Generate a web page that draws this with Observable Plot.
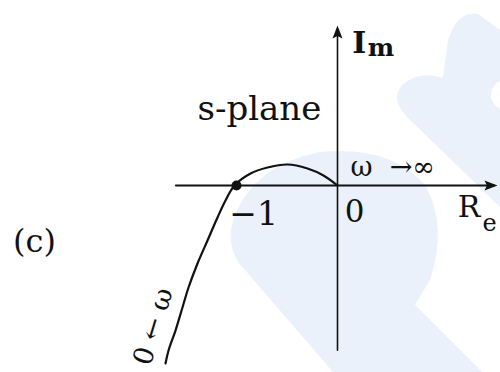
<!DOCTYPE html>
<html>
<head>
<meta charset="utf-8">
<script src="https://cdn.jsdelivr.net/npm/d3@7"></script>
<script src="https://cdn.jsdelivr.net/npm/@observablehq/plot@0.6"></script>
<style>
  html, body { margin: 0; padding: 0; background: #fff; }
  #wrap { position: relative; width: 500px; height: 372px; }
  #wrap svg { position: absolute; left: 0; top: 0; }
</style>
</head>
<body>
<div id="wrap">
  <svg width="500" height="372" viewBox="0 0 500 372">
    <path fill="#eaf1fb" d="M 333 372 L 238 262 Q 225 240 235 215 Q 255 165 320 152 Q 390 145 425 185 Q 448 225 430 280 L 415 305 L 482 372 Z"/>
    <path fill="#eaf1fb" d="M 500 207 L 408 118 Q 390 100 402 85 Q 420 70 443 78 L 448 40 Q 458 10 478 14 L 500 30 Z"/>
    <circle cx="506" cy="95" r="15" fill="#fff"/>
  </svg>
</div>
<script>
// Nyquist locus G(jω) in the s-plane: starts far out in the third quadrant as ω → 0,
// crosses the real axis at −1 and ends at the origin as ω → ∞.
const curveRe = [-1.703, -1.673, -1.604, -1.535, -1.475, -1.386, -1.287, -1.188, -1.109, -1.02, -0.861, -0.693, -0.495, -0.297, -0.139, 0];
const curveIm = [-1.762, -1.634, -1.436, -1.208, -1.01, -0.772, -0.545, -0.317, -0.149, 0, 0.119, 0.178, 0.208, 0.168, 0.099, 0];

// Axis extents (real and imaginary)
const reAxis = [-1.6, 1.55];
const imAxis = [-1.63, 1.55];
const arrowTip = 1.584;

// Marked crossing point and tick labels
const crossing = [-1];
const tickLabels = ["−1", "0"];

const curve = curveRe.map((re, i) => ({re, im: curveIm[i]}));

// Solid arrowhead pointing up, tip at the anchor point
const arrowHead = {
  draw(ctx) {
    ctx.moveTo(0, 0);
    ctx.lineTo(-5, 13);
    ctx.lineTo(0, 10.5);
    ctx.lineTo(5, 13);
    ctx.closePath();
  }
};

const serif = "DejaVu Serif";
const ink = "#111";

const chart = Plot.plot({
  width: 500,
  height: 372,
  margin: 0,
  style: {background: "transparent"},
  x: {domain: [-337 / 101, 163 / 101], axis: null},
  y: {domain: [-187 / 101, 185 / 101], axis: null},
  marks: [
    // axes
    Plot.line(reAxis.map(x => ({x, y: 0})), {x: "x", y: "y", stroke: ink, strokeWidth: 2}),
    Plot.line(imAxis.map(y => ({x: 0, y})), {x: "x", y: "y", stroke: ink, strokeWidth: 1.6}),
    Plot.dot([{x: 0, y: arrowTip}], {x: "x", y: "y", symbol: arrowHead, fill: ink, stroke: "none"}),
    Plot.dot([{x: arrowTip, y: 0}], {x: "x", y: "y", symbol: arrowHead, rotate: 90, fill: ink, stroke: "none"}),
    // locus
    Plot.line(curve, {x: "re", y: "im", curve: "catmull-rom", stroke: ink, strokeWidth: 2.2}),
    Plot.dot(crossing, {x: d => d, y: () => 0, r: 5, fill: ink, stroke: "none"}),
    // tick labels
    Plot.text([tickLabels[0]], {x: -0.83, y: -0.39, text: d => d, fontFamily: serif, fontSize: 33, lineAnchor: "bottom", fill: ink}),
    Plot.text([tickLabels[1]], {x: 0.17, y: -0.366, text: d => d, fontFamily: serif, fontSize: 31, lineAnchor: "bottom", fill: ink}),
    // axis titles
    Plot.text(["I"], {x: 0.147, y: 1.31, text: d => d, fontFamily: serif, fontSize: 30, fontWeight: "bold", textAnchor: "start", lineAnchor: "bottom", fill: ink}),
    Plot.text(["m"], {x: 0.3, y: 1.28, text: d => d, fontFamily: serif, fontSize: 25, fontWeight: "bold", textAnchor: "start", lineAnchor: "bottom", fill: ink}),
    Plot.text(["R"], {x: 1.19, y: -0.307, text: d => d, fontFamily: serif, fontSize: 30, textAnchor: "start", lineAnchor: "bottom", fill: ink}),
    Plot.text(["e"], {x: 1.435, y: -0.446, text: d => d, fontFamily: serif, fontSize: 24, textAnchor: "start", lineAnchor: "bottom", fill: ink}),
    // annotations
    Plot.text(["s-plane"], {x: -1.386, y: 0.644, text: d => d, fontFamily: serif, fontSize: 34, textAnchor: "start", lineAnchor: "bottom", fill: ink}),
    Plot.text(["ω  →∞"], {x: 0.129, y: 0.099, text: d => d, fontFamily: serif, fontSize: 27, textAnchor: "start", lineAnchor: "bottom", fill: ink}),
    Plot.text(["0 ← ω"], {x: -1.822, y: -1.396, text: d => d, fontFamily: serif, fontSize: 27, rotate: -73, fill: ink}),
    Plot.text(["(c)"], {x: -3.0, y: -0.663, text: d => d, fontFamily: serif, fontSize: 32, lineAnchor: "bottom", fill: ink})
  ]
});

document.getElementById("wrap").appendChild(chart);
</script>
</body>
</html>
